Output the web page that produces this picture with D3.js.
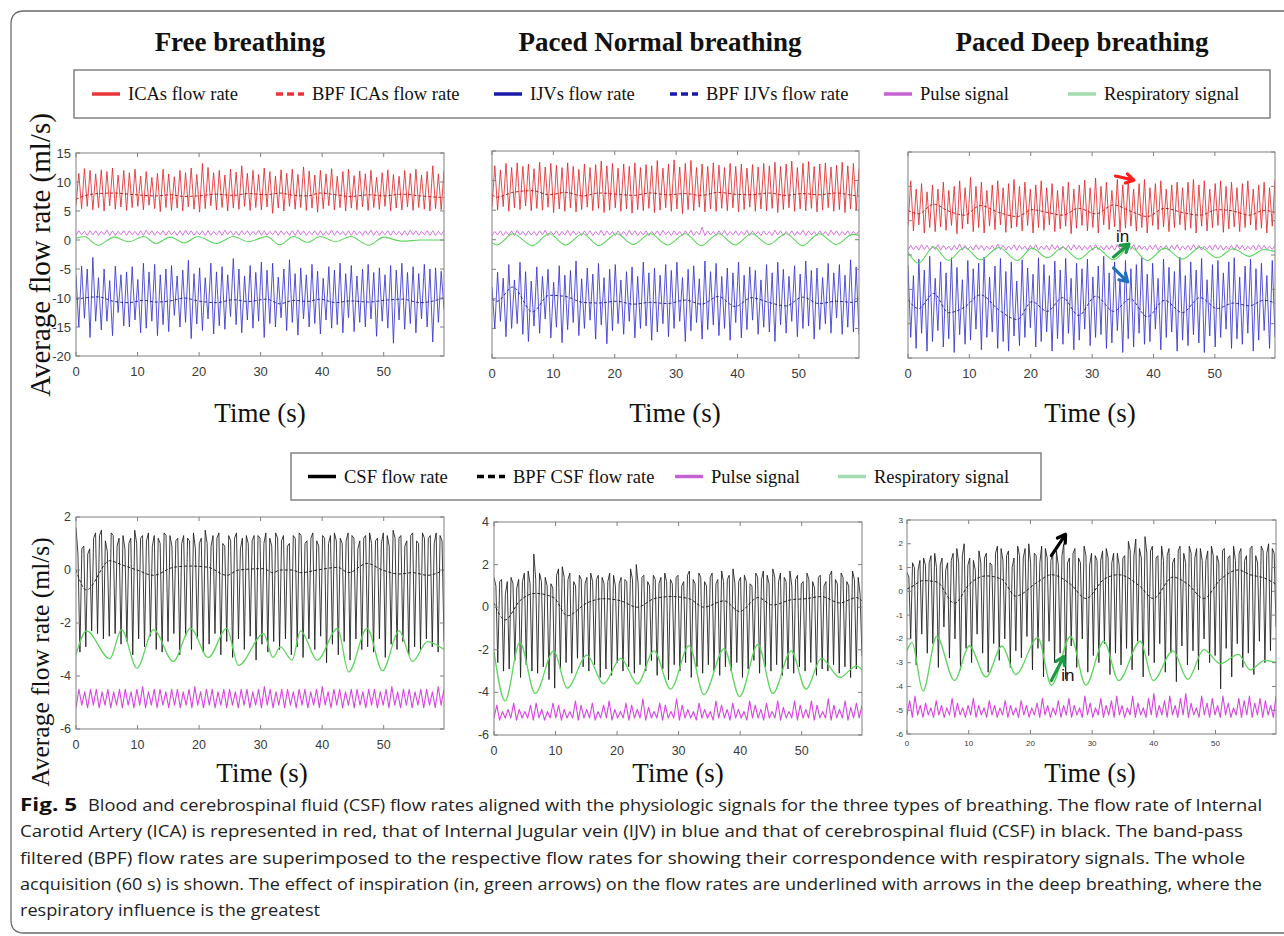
<!DOCTYPE html>
<html>
<head>
<meta charset="utf-8">
<script src="https://cdn.jsdelivr.net/npm/d3@7"></script>
<style>
  body { margin: 0; background: #fff; }
</style>
</head>
<body>
<div id="chart"></div>
<script>
// ---------- Data ----------
const X_MAX = 59.8; // seconds shown on each panel

const titles = ['Free breathing', 'Paced Normal breathing', 'Paced Deep breathing'];
const xTicks = [0, 10, 20, 30, 40, 50];

// top row: heart-beat signals stored as [trough, peak, trough, peak, ...] at an even sampling rate
const icaFree = [6.0,11.5, 5.4,12.3, 5.8,12.0, 5.2,11.4, 5.6,12.1, 5.0,11.8, 5.9,12.4, 5.3,11.2, 5.7,12.0, 5.1,11.6,
  5.6,12.2, 5.8,11.0, 5.2,11.8, 6.0,10.8, 5.4,11.5, 4.9,12.2, 5.6,11.4, 5.1,10.9, 5.5,12.0, 5.0,11.6,
  5.7,12.4, 5.3,11.3, 4.8,13.2, 5.4,12.5, 5.9,11.6, 5.2,12.0, 5.6,11.2, 5.0,12.2, 5.5,11.7, 5.3,12.8,
  5.8,11.5, 5.1,12.0, 5.6,11.3, 5.2,12.4, 5.7,11.8, 4.6,11.0, 5.5,12.1, 5.0,11.5, 5.8,12.2, 5.3,11.3,
  5.6,12.6, 5.1,11.9, 5.5,11.2, 4.8,12.0, 5.4,11.4, 5.9,12.3, 5.2,11.0, 5.6,11.8, 5.0,12.2, 5.5,11.1,
  5.2,11.9, 5.7,11.4, 5.1,12.0, 5.6,10.8, 5.3,11.6, 5.8,12.1, 5.0,11.3, 5.5,11.0, 5.2,12.0, 5.7,11.5,
  5.1,12.2, 5.6,11.2, 5.3,11.8, 5.0,12.8, 5.4,11.4, 5.2,12.0];
const ijvFree = [-6.0,-15.0, -4.5,-13.5, -5.0,-16.8, -3.0,-14.0, -6.5,-15.5, -5.0,-14.0, -7.0,-16.5, -4.5,-12.5, -6.0,-14.8, -5.5,-15.0,
  -4.6,-13.8, -6.8,-16.0, -4.0,-15.2, -5.5,-14.0, -4.2,-16.5, -6.0,-14.6, -5.0,-15.8, -4.4,-13.0, -6.2,-15.0, -5.2,-14.2,
  -3.5,-17.0, -5.8,-14.5, -4.8,-15.6, -6.5,-13.6, -4.0,-16.2, -5.5,-14.8, -4.6,-15.4, -6.0,-13.2, -3.2,-14.6, -5.0,-16.0,
  -6.2,-13.8, -4.4,-15.2, -5.6,-14.0, -3.8,-16.8, -5.2,-14.4, -4.0,-15.0, -6.4,-13.4, -5.0,-15.6, -3.4,-14.2, -5.8,-16.4,
  -4.8,-13.6, -6.0,-15.0, -4.2,-14.4, -5.4,-16.2, -6.6,-13.8, -4.6,-15.2, -5.2,-14.6, -4.0,-16.0, -5.8,-13.4, -4.4,-15.8,
  -6.2,-14.2, -5.0,-15.0, -4.2,-13.6, -5.6,-16.6, -4.8,-14.0, -6.0,-15.2, -4.4,-17.8, -5.2,-13.8, -4.0,-15.4, -5.6,-14.4,
  -4.6,-16.0, -5.8,-13.6, -4.2,-15.0, -5.0,-17.6, -4.8,-14.2, -5.4,-12.0];
const pulseFree = [0.8,1.6, 0.9,1.5, 0.8,1.6, 0.9,1.6, 0.8,1.5, 0.9,1.7, 0.8,1.6, 0.8,1.5, 0.9,1.6, 0.8,1.6,
  0.9,1.5, 0.8,1.6, 0.8,1.7, 0.9,1.6, 0.8,1.5, 0.9,1.6, 0.8,1.6, 0.9,1.5, 0.8,1.6, 0.8,1.7,
  0.9,1.6, 0.8,1.5, 0.9,1.6, 0.8,1.6, 0.8,1.5, 0.9,1.6, 0.8,1.7, 0.9,1.6, 0.8,1.5, 0.8,1.6,
  0.9,1.6, 0.8,1.5, 0.9,1.7, 0.8,1.6, 0.8,1.5, 0.9,1.6, 0.8,1.6, 0.9,1.5, 0.8,1.6, 0.8,1.7,
  0.9,1.6, 0.8,1.5, 0.9,1.6, 0.8,1.6, 0.8,1.5, 0.9,1.7, 0.8,1.6, 0.9,1.5, 0.8,1.6, 0.8,1.6,
  0.9,1.5, 0.8,1.6, 0.9,1.7, 0.8,1.6, 0.8,1.5, 0.9,1.6, 0.8,1.6, 0.9,1.5, 0.8,1.6, 0.8,1.7,
  0.9,1.6, 0.8,1.5, 0.9,1.6, 0.8,1.6, 0.8,1.5, 0.9,1.6];
// slow waves: extremes with their times (s)
const breathFreeT = [0, 1.3, 3.6, 6.2, 8.6, 11.0, 13.0, 15.3, 17.6, 19.8, 22.8, 25.6, 28.0, 31.0, 33.1, 35.4, 37.6, 39.7, 42.2, 44.6, 47.6, 50.0, 53.0, 56.0, 59.8];
const respFree = [0.3, 0.6, -0.9, 0.5, -0.3, 0.6, -0.6, 0.5, -0.5, 0.6, -0.6, 0.6, -0.3, 0.6, -0.8, 0.6, -0.4, 0.6, -0.3, 0.6, -0.9, 0.5, -0.2, 0.0, 0.0];
const bpfIcaFree = [7.0, 7.6, 8.0, 8.1, 7.9, 7.7, 7.6, 7.8, 7.5, 7.6, 7.9, 7.7, 8.0, 7.8, 8.1, 7.7, 7.6, 8.1, 7.8, 7.5, 7.8, 7.6, 7.9, 7.6, 7.3];
const bpfIjvFree = [-10.2, -10.0, -9.8, -10.6, -10.8, -10.4, -10.7, -10.5, -10.0, -10.5, -10.8, -10.3, -10.6, -10.2, -11.0, -10.4, -10.6, -10.2, -10.8, -10.5, -10.7, -10.4, -10.2, -10.8, -10.0];

const icaNormal = [5.5,12.5, 5.0,11.8, 5.6,12.9, 4.8,12.2, 5.4,13.0, 5.1,12.4, 5.7,12.8, 4.9,12.0, 5.3,13.1, 5.0,12.3,
  5.5,12.9, 4.6,12.6, 5.2,12.2, 4.8,13.0, 5.4,12.4, 4.7,11.9, 5.1,12.8, 5.5,12.2, 4.9,12.7, 5.3,13.3,
  4.6,12.5, 5.0,12.9, 5.4,12.1, 4.8,12.8, 5.2,12.4, 4.5,13.0, 5.1,12.2, 4.9,12.7, 5.3,12.5, 4.6,13.4,
  5.0,12.1, 5.4,12.8, 4.8,13.5, 5.2,12.3, 4.4,12.9, 5.1,13.4, 4.9,12.2, 5.5,12.8, 4.7,12.4, 5.2,13.0,
  4.8,12.6, 5.3,12.2, 4.9,12.9, 5.4,12.4, 4.7,12.8, 5.1,12.1, 5.5,12.7, 4.8,12.3, 5.2,12.9, 4.9,12.5,
  5.3,13.1, 4.6,12.4, 5.1,12.8, 5.4,13.3, 4.8,12.2, 5.2,12.9, 4.9,13.2, 5.3,12.4, 4.7,12.8, 5.0,13.0,
  5.4,12.3, 4.8,12.6, 5.1,13.1, 4.6,12.5, 5.2,12.9, 5.0,12.0];
const ijvNormal = [-8.0,-15.0, -5.5,-13.8, -6.5,-16.4, -4.2,-15.0, -6.8,-14.2, -3.8,-16.0, -5.4,-17.2, -7.0,-14.6, -4.6,-15.8, -6.2,-13.4,
  -5.0,-16.6, -7.2,-14.8, -4.4,-17.4, -6.0,-15.2, -5.2,-14.0, -3.6,-16.2, -6.6,-15.0, -4.8,-13.6, -5.8,-16.8, -4.0,-14.4,
  -6.4,-17.6, -5.0,-15.4, -4.2,-14.2, -6.8,-16.0, -5.4,-13.8, -4.6,-16.6, -6.2,-15.0, -3.8,-14.6, -5.6,-17.0, -4.8,-15.6,
  -6.0,-14.2, -4.2,-16.4, -5.2,-15.0, -3.8,-13.8, -6.4,-17.2, -5.0,-15.4, -4.4,-14.0, -6.6,-16.8, -3.6,-15.2, -5.4,-14.4,
  -4.0,-16.2, -6.2,-15.0, -4.8,-17.0, -5.6,-14.0, -3.8,-16.6, -6.0,-15.2, -4.6,-13.6, -5.2,-16.0, -6.8,-14.8, -4.2,-15.6,
  -5.6,-17.2, -3.8,-14.4, -5.0,-15.8, -6.2,-13.8, -4.4,-16.4, -5.8,-15.0, -3.6,-14.6, -5.2,-16.8, -4.8,-15.2, -6.4,-14.2,
  -4.0,-15.8, -5.6,-13.2, -4.2,-16.0, -6.0,-14.8, -3.4,-15.6, -4.6,-16.0];
const pulseNormal = [0.7,1.4, 0.8,1.5, 0.7,1.4, 0.8,1.5, 0.7,1.6, 0.8,1.4, 0.7,1.5, 0.8,1.4, 0.7,1.5, 0.8,1.6,
  0.7,1.4, 0.8,1.5, 0.7,1.4, 0.8,1.6, 0.7,1.5, 0.8,1.4, 0.7,1.5, 0.8,1.5, 0.7,1.4, 0.8,1.6,
  0.7,1.5, 0.8,1.4, 0.7,1.5, 0.8,1.4, 0.7,1.6, 0.8,1.5, 0.7,1.4, 0.8,1.5, 0.7,1.4, 0.8,1.5,
  0.7,1.6, 0.8,1.4, 0.7,1.5, 0.8,1.4, 0.7,1.5, 0.8,1.6, 0.7,1.4, 0.8,2.1, 0.7,1.5, 0.8,1.4,
  0.7,1.5, 0.8,1.6, 0.7,1.4, 0.8,1.5, 0.7,1.4, 0.8,1.6, 0.7,1.5, 0.8,1.4, 0.7,1.5, 0.8,1.4,
  0.7,1.6, 0.8,1.5, 0.7,1.4, 0.8,1.5, 0.7,1.4, 0.8,1.6, 0.7,1.5, 0.8,1.4, 0.7,1.5, 0.8,1.4,
  0.7,1.6, 0.8,1.5, 0.7,1.4, 0.8,1.5, 0.7,1.4, 0.8,1.5];
const breathNormalT = [0, 0.8, 3.4, 6.6, 9.3, 12.0, 14.8, 17.4, 20.3, 23.0, 25.8, 28.6, 31.5, 34.1, 36.9, 39.6, 42.3, 45.1, 47.9, 50.6, 53.3, 56.1, 58.8, 59.8];
const respNormal = [-0.5, -0.9, 1.0, -1.0, 1.0, -0.9, 1.0, -1.0, 1.0, -0.8, 1.0, -0.9, 1.0, -1.0, 1.0, -0.9, 1.0, -0.8, 1.0, -1.0, 1.0, -0.8, 0.9, 0.7];
const bpfIcaNormal = [7.6, 7.2, 8.0, 8.3, 7.6, 8.0, 7.4, 7.9, 7.7, 7.5, 7.9, 7.6, 7.8, 7.5, 8.0, 7.7, 7.6, 7.9, 7.5, 7.8, 7.6, 7.9, 7.5, 7.4];
const bpfIjvNormal = [-10.0, -10.4, -8.0, -12.2, -9.4, -9.6, -10.6, -10.7, -10.4, -10.9, -10.6, -10.8, -10.2, -10.9, -9.6, -11.3, -9.8, -10.6, -11.2, -9.7, -10.8, -10.4, -10.6, -10.2];

const icaDeep = [-0.8,5.8, -1.5,4.6, -0.6,5.4, -1.8,4.2, -1.0,5.2, -1.6,4.6, -0.9,5.6, -1.4,4.4, -0.7,5.0, -1.9,5.8,
  -1.2,4.8, -0.5,6.3, -1.6,5.0, -1.0,5.6, -1.8,4.4, -0.8,5.2, -1.3,5.8, -0.6,4.8, -1.7,5.4, -1.1,6.0,
  -0.9,5.0, -1.5,5.6, -0.7,4.6, -1.8,5.2, -1.0,5.8, -1.4,4.8, -0.6,5.4, -1.6,4.4, -1.2,5.0, -0.8,5.6,
  -1.9,4.6, -1.1,5.2, -0.7,5.9, -1.5,4.8, -1.0,6.2, -1.8,5.0, -0.6,5.6, -1.3,4.4, -0.9,6.0, -1.7,5.2,
  -1.1,5.8, -0.8,4.6, -1.5,5.4, -1.0,6.0, -1.8,4.8, -0.7,5.4, -1.3,5.8, -0.9,4.6, -1.6,5.2, -1.0,5.6,
  -0.6,4.8, -1.4,5.6, -1.1,6.0, -1.8,5.2, -0.8,5.8, -1.5,4.6, -1.0,5.4, -0.7,5.8, -1.7,5.0, -1.2,5.6,
  -0.9,4.8, -1.6,5.4, -1.0,5.8, -0.6,4.6, -1.4,5.2, -1.1,5.6, -1.8,4.8, -0.8,6.0];
const ijvDeep = [-6.5,-17.0, -8.0,-18.6, -5.6,-16.4, -7.2,-19.0, -5.2,-17.6, -8.4,-16.0, -6.0,-18.4, -7.6,-17.2, -5.4,-19.2, -6.8,-16.6,
  -8.6,-18.0, -5.8,-17.4, -7.0,-15.8, -6.2,-18.8, -5.3,-17.0, -8.2,-16.2, -6.6,-18.6, -5.5,-17.6, -7.4,-19.0, -6.0,-16.8,
  -8.8,-18.2, -5.7,-17.0, -6.9,-15.6, -7.8,-18.4, -5.4,-17.6, -6.4,-16.2, -8.0,-19.0, -5.9,-17.2, -7.2,-18.0, -5.5,-16.4,
  -8.4,-18.8, -6.2,-17.4, -7.0,-15.8, -5.6,-18.2, -8.2,-17.0, -6.6,-16.6, -5.2,-18.6, -7.6,-17.8, -6.0,-16.0, -8.6,-19.2,
  -5.8,-17.2, -7.0,-18.4, -6.4,-16.4, -5.4,-18.0, -7.8,-17.6, -6.2,-15.8, -8.4,-18.8, -5.6,-17.0, -6.8,-16.2, -7.4,-19.0,
  -5.3,-17.4, -8.0,-18.2, -6.0,-16.6, -7.2,-17.8, -5.5,-19.2, -8.6,-16.8, -6.4,-18.4, -5.8,-17.0, -7.6,-15.8, -6.0,-18.6,
  -5.4,-17.2, -8.2,-18.0, -6.6,-16.4, -5.6,-19.0, -7.0,-17.4, -6.2,-16.0, -8.0,-18.6, -5.8,-17.0];
const pulseDeep = [-4.3,-3.6, -4.2,-3.7, -4.3,-3.5, -4.2,-3.6, -4.3,-3.7, -4.2,-3.5, -4.3,-3.6, -4.2,-3.7, -4.3,-3.6, -4.2,-3.4,
  -4.3,-3.6, -4.2,-3.7, -4.3,-3.5, -4.2,-3.6, -4.3,-3.7, -4.2,-3.6, -4.3,-3.4, -4.2,-3.6, -4.3,-3.7, -4.2,-3.5,
  -4.3,-3.6, -4.2,-3.7, -4.3,-3.6, -4.2,-3.5, -4.3,-3.7, -4.2,-3.6, -4.3,-3.5, -4.2,-3.6, -4.3,-3.7, -4.2,-3.6,
  -4.3,-3.5, -4.2,-3.6, -4.3,-3.7, -4.2,-3.6, -4.3,-3.5, -4.2,-3.7, -4.3,-3.6, -4.2,-3.6, -4.3,-3.5, -4.2,-3.7,
  -4.3,-3.6, -4.2,-3.5, -4.3,-3.6, -4.2,-3.7, -4.3,-3.6, -4.2,-3.5, -4.3,-3.7, -4.2,-3.6, -4.3,-3.6, -4.2,-3.5,
  -4.3,-3.7, -4.2,-3.6, -4.3,-3.5, -4.2,-3.6, -4.3,-3.7, -4.2,-3.6, -4.3,-3.5, -4.2,-3.6, -4.3,-3.7, -4.2,-3.6,
  -4.3,-3.5, -4.2,-3.6, -4.3,-3.7, -4.2,-3.6, -4.3,-3.5, -4.2,-3.6, -4.3,-3.7, -4.2,-3.6];
const breathDeepT = [0, 1.7, 4.2, 6.6, 9.2, 11.8, 14.8, 17.8, 20.2, 22.7, 25.2, 27.8, 30.6, 33.5, 36.2, 39.0, 41.8, 44.7, 47.6, 50.4, 53.0, 55.6, 58.0, 59.8];
const respDeep = [-4.6, -6.2, -3.8, -5.8, -3.9, -5.7, -3.9, -5.8, -4.0, -5.4, -3.9, -5.6, -3.9, -5.7, -3.8, -5.8, -4.0, -5.6, -3.9, -5.4, -4.1, -5.2, -4.2, -4.5];
const bpfIcaDeep = [1.5, 1.0, 2.4, 1.4, 0.8, 2.2, 1.2, 0.6, 1.6, 1.2, 0.8, 1.8, 1.0, 2.3, 1.4, 0.6, 1.8, 1.2, 0.8, 1.6, 1.4, 0.8, 1.5, 1.2];
const bpfIjvDeep = [-11.5, -12.8, -10.6, -13.4, -12.6, -10.8, -13.0, -14.4, -11.8, -13.2, -11.2, -13.8, -11.0, -13.2, -11.4, -14.0, -11.6, -13.4, -11.2, -12.8, -12.0, -12.4, -11.6, -12.0];

// bottom row: CSF stored as [high, high, low] per beat, pulse as [low, high]
const csfFree = [1.6,0.6,-3.1, 0.8,0.9,-2.9, 0.6,0.8,-2.3, 1.2,1.4,-2.4, 1.3,1.5,-2.6, 1.1,0.7,-2.5, 1.4,1.3,-2.4, 0.9,1.2,-2.8, 1.3,0.8,-2.7, 1.0,1.2,-3.2,
  1.5,1.0,-2.6, 1.2,1.3,-2.9, 1.1,1.4,-2.5, 0.9,1.3,-3.0, 1.2,1.0,-3.1, 1.4,1.3,-2.7, 1.3,0.9,-2.4, 1.1,1.2,-3.2, 1.0,1.3,-2.5, 1.2,1.1,-3.0,
  1.4,0.8,-2.6, 1.0,1.2,-3.1, 1.5,1.0,-2.8, 0.9,1.3,-2.4, 1.2,1.4,-3.2, 1.0,0.9,-2.7, 1.3,1.1,-3.3, 1.2,1.4,-2.6, 0.8,1.2,-3.0, 1.3,1.0,-2.5,
  1.1,1.3,-3.4, 1.3,1.2,-2.8, 1.0,1.4,-3.1, 1.2,0.9,-2.7, 1.4,1.2,-3.0, 1.1,1.3,-2.6, 0.9,1.0,-3.2, 1.3,1.2,-2.9, 1.4,1.3,-3.3, 1.0,1.1,-2.6,
  1.2,1.4,-3.0, 1.1,0.9,-2.5, 1.3,1.2,-3.5, 1.0,1.3,-2.8, 1.4,1.1,-3.2, 1.2,1.0,-2.7, 1.1,1.4,-3.4, 1.3,1.2,-2.6, 0.8,1.1,-3.0, 1.2,1.3,-2.9,
  1.4,1.0,-3.1, 1.1,1.2,-2.6, 1.0,1.4,-3.3, 1.3,0.9,-2.8, 1.5,1.2,-3.0, 1.2,1.3,-2.7, 0.9,1.1,-3.2, 1.3,1.4,-2.9, 1.1,1.0,-3.0, 1.4,1.2,-2.6,
  1.2,1.3,-2.9, 1.0,1.4,-3.1, 1.3,1.1,-2.7];
const pulseCsfFree = [-5.2,-4.5, -5.1,-4.6, -5.2,-4.5, -5.1,-4.5, -5.2,-4.6, -5.1,-4.5, -5.2,-4.6, -5.1,-4.5, -5.2,-4.5, -5.1,-4.6,
  -5.2,-4.5, -5.1,-4.4, -5.2,-4.6, -5.1,-4.5, -5.2,-4.5, -5.1,-4.6, -5.2,-4.5, -5.1,-4.5, -5.2,-4.6, -5.1,-4.5,
  -5.2,-4.4, -5.1,-4.6, -5.2,-4.5, -5.1,-4.5, -5.2,-4.6, -5.1,-4.5, -5.2,-4.5, -5.1,-4.6, -5.2,-4.5, -5.1,-4.5,
  -5.2,-4.6, -5.1,-4.5, -5.2,-4.4, -5.1,-4.5, -5.2,-4.6, -5.1,-4.5, -5.2,-4.5, -5.1,-4.6, -5.2,-4.5, -5.1,-4.5,
  -5.2,-4.6, -5.1,-4.5, -5.2,-4.4, -5.1,-4.6, -5.2,-4.5, -5.1,-4.5, -5.2,-4.6, -5.1,-4.5, -5.2,-4.5, -5.1,-4.6,
  -5.2,-4.5, -5.1,-4.5, -5.2,-4.6, -5.1,-4.5, -5.2,-4.4, -5.1,-4.6, -5.2,-4.5, -5.1,-4.5, -5.2,-4.6, -5.1,-4.5,
  -5.2,-4.5, -5.1,-4.6, -5.2,-4.4, -5.1,-4.5];
const breathCsfFreeT = [0, 1.7, 5.5, 7.4, 9.9, 12.6, 15.8, 18.6, 21.5, 24.5, 26.4, 30.5, 32.0, 33.2, 35.1, 36.5, 39.2, 42.5, 44.3, 47.3, 49.8, 52.5, 54.7, 57.1, 59.8];
const respCsfFree = [-3.2, -2.3, -3.35, -2.25, -3.7, -2.25, -3.45, -2.2, -3.3, -2.2, -3.6, -2.4, -3.3, -2.9, -3.4, -2.3, -3.4, -2.2, -3.85, -2.2, -3.8, -2.3, -3.45, -2.7, -3.0];
const bpfCsfFree = [0.0, -0.75, 0.35, 0.2, 0.0, -0.2, 0.1, 0.15, 0.1, -0.2, 0.0, 0.05, -0.1, 0.0, 0.0, -0.1, 0.0, 0.1, -0.1, 0.25, 0.0, -0.15, -0.1, -0.2, 0.0];

const csfNormal = [1.4,1.0,-2.6, 1.2,1.3,-3.0, 0.6,1.2,-2.9, 1.4,1.1,-2.5, 0.9,1.3,-3.3, 1.2,1.6,-2.7, 1.7,1.1,-3.0, 2.5,1.3,-3.1, 1.6,1.2,-2.8, 1.4,1.0,-3.4,
  1.1,0.9,-3.8, 1.5,1.8,-2.9, 1.9,1.4,-2.6, 1.3,1.6,-3.1, 1.2,1.0,-2.4, 1.5,1.3,-2.8, 1.1,1.4,-3.0, 1.6,1.2,-2.7, 1.3,1.5,-3.3, 1.4,1.1,-2.9,
  1.2,1.6,-3.2, 1.5,1.0,-2.6, 1.1,1.4,-3.0, 1.3,1.2,-2.8, 1.8,1.3,-3.1, 2.0,1.1,-2.7, 1.4,1.5,-3.0, 1.2,1.0,-2.5, 1.5,1.3,-3.2, 1.1,1.4,-2.9,
  1.6,1.2,-3.4, 1.3,1.1,-2.7, 1.4,1.5,-3.0, 1.0,1.2,-2.6, 1.5,1.7,-3.3, 1.3,1.1,-2.8, 1.6,1.4,-3.1, 1.2,1.0,-2.7, 1.4,1.6,-3.0, 1.1,1.3,-3.2,
  1.7,1.2,-2.8, 1.3,1.5,-3.0, 1.8,1.1,-2.6, 1.2,1.4,-3.3, 1.5,1.2,-2.9, 1.1,1.0,-2.5, 1.6,1.4,-3.1, 1.3,1.7,-2.8, 1.5,1.1,-3.0, 1.8,1.4,-2.7,
  1.2,1.6,-3.2, 1.4,1.2,-2.9, 1.7,1.0,-3.1, 1.3,1.5,-2.8, 1.1,1.2,-3.0, 1.6,1.3,-2.6, 1.2,0.9,-3.2, 1.4,1.5,-2.9, 1.0,1.2,-3.0, 1.5,1.7,-2.7,
  1.3,1.1,-3.1, 1.6,1.4,-2.8, 1.2,1.0,-3.3, 1.7,1.3,-2.9, 1.4,0.6,-2.3];
const pulseCsfNormal = [-5.2,-4.6, -5.3,-4.9, -5.2,-4.8, -5.2,-4.5, -5.3,-4.8, -5.2,-4.9, -5.2,-4.6, -5.3,-4.5, -5.2,-4.8, -5.3,-4.9,
  -5.2,-4.5, -5.2,-4.6, -5.3,-4.8, -5.2,-4.9, -5.2,-4.4, -5.3,-4.6, -5.2,-4.8, -5.2,-4.5, -5.3,-4.9, -5.2,-4.6,
  -5.2,-4.4, -5.3,-4.8, -5.2,-4.9, -5.2,-4.5, -5.3,-4.6, -5.2,-4.8, -5.2,-4.3, -5.3,-4.7, -5.2,-4.9, -5.2,-4.5,
  -5.3,-4.6, -5.2,-4.9, -5.2,-4.3, -5.3,-4.6, -5.2,-4.8, -5.2,-4.9, -5.3,-4.5, -5.2,-4.8, -5.2,-4.9, -5.3,-4.4,
  -5.2,-4.6, -5.2,-4.8, -5.3,-4.5, -5.2,-4.8, -5.2,-4.9, -5.3,-4.4, -5.2,-4.6, -5.2,-4.8, -5.3,-4.5, -5.2,-4.9,
  -5.2,-4.4, -5.3,-4.7, -5.2,-4.9, -5.2,-4.4, -5.3,-4.6, -5.2,-4.8, -5.2,-4.4, -5.3,-4.6, -5.2,-4.9, -5.2,-4.3,
  -5.3,-4.6, -5.2,-4.8, -5.2,-4.4, -5.3,-4.7, -5.2,-4.5, -5.2,-4.6];
const breathCsfNormalT = [0, 1.8, 4.2, 6.7, 9.7, 11.9, 15.1, 17.8, 20.6, 23.3, 26.0, 28.7, 31.7, 34.1, 37.4, 39.9, 42.9, 45.3, 48.3, 50.7, 53.2, 56.2, 58.9, 59.8];
const respCsfNormal = [-2.1, -4.4, -1.65, -4.05, -2.05, -3.8, -2.25, -3.6, -2.4, -3.6, -2.05, -3.85, -1.8, -4.1, -1.95, -4.2, -1.75, -4.05, -2.05, -3.85, -2.4, -3.3, -2.75, -2.95];
const bpfCsfNormal = [0.2, -0.6, 0.3, 0.65, 0.45, -0.4, 0.2, 0.4, 0.3, 0.0, 0.4, 0.5, 0.4, 0.0, 0.3, -0.2, 0.45, 0.1, 0.35, 0.4, 0.5, 0.2, 0.45, 0.3];

const csfDeep = [0.8,0.6,-2.0, 1.2,1.0,-3.1, 0.9,1.3,-1.8, 1.4,1.1,-2.6, 1.2,1.5,-2.2, 1.6,1.0,-3.2, 1.1,1.4,-1.5, 0.9,1.2,-2.8, 1.3,1.6,-2.0, 1.8,1.2,-3.3,
  1.5,2.0,-2.4, 1.1,1.4,-3.0, 1.3,0.9,-1.8, 1.7,1.2,-2.6, 1.4,1.6,-3.4, 1.2,1.1,-2.2, 1.6,1.9,-2.9, 1.8,1.3,-2.0, 1.5,1.7,-3.2, 1.0,1.4,-2.5,
  1.9,1.5,-2.8, 1.4,1.8,-1.9, 2.0,1.2,-3.3, 1.6,1.5,-2.4, 1.2,1.9,-3.6, 1.8,1.4,-2.1, 1.3,1.6,-3.0, 1.7,1.1,-2.6, 1.5,2.0,-3.7, 1.2,1.4,-2.3,
  1.6,1.8,-3.2, 1.4,1.2,-2.0, 1.9,1.5,-3.4, 1.1,1.6,-2.7, 1.5,1.3,-3.0, 1.3,1.7,-2.2, 1.8,1.4,-3.5, 1.2,1.6,-2.6, 1.6,1.1,-3.1, 1.4,1.5,-2.4,
  2.1,1.7,-3.3, 1.5,2.2,-2.1, 1.8,1.4,-3.6, 2.3,1.6,-2.7, 1.7,1.9,-3.0, 1.4,1.5,-2.2, 1.9,1.3,-3.4, 1.5,1.8,-2.6, 1.2,1.4,-3.8, 1.7,1.9,-2.3,
  1.6,1.2,-3.1, 1.9,1.6,-2.5, 1.4,1.8,-3.3, 1.8,1.3,-2.0, 1.3,1.7,-3.0, 1.9,1.5,-2.7, 1.5,1.2,-4.1, 1.7,1.8,-2.4, 1.4,1.5,-3.6, 1.9,1.3,-2.2,
  1.6,1.8,-3.2, 1.3,1.5,-2.6, 1.8,1.9,-3.5, 1.5,1.2,-2.1, 1.9,1.7,-3.0, 1.6,2.0,-2.5, 1.8,1.6,-1.5];
const pulseCsfDeep = [-5.2,-4.6, -5.3,-4.4, -5.2,-4.8, -5.3,-4.7, -5.2,-4.9, -5.3,-4.6, -5.2,-4.8, -5.3,-4.9, -5.2,-4.5, -5.3,-4.7,
  -5.2,-4.9, -5.3,-4.8, -5.2,-4.5, -5.3,-4.8, -5.2,-4.9, -5.3,-4.6, -5.2,-4.8, -5.3,-4.9, -5.2,-4.6, -5.3,-4.8,
  -5.2,-4.9, -5.3,-4.6, -5.2,-4.8, -5.3,-4.9, -5.2,-4.7, -5.3,-4.5, -5.2,-4.8, -5.3,-4.9, -5.2,-4.6, -5.3,-4.8,
  -5.2,-4.5, -5.3,-4.8, -5.2,-4.9, -5.3,-4.4, -5.2,-4.7, -5.3,-4.9, -5.2,-4.5, -5.3,-4.8, -5.2,-4.6, -5.3,-4.4,
  -5.2,-4.8, -5.3,-4.9, -5.2,-4.4, -5.3,-4.7, -5.2,-4.9, -5.3,-4.5, -5.2,-4.3, -5.3,-4.8, -5.2,-4.6, -5.3,-4.4,
  -5.2,-4.8, -5.3,-4.5, -5.2,-4.3, -5.3,-4.7, -5.2,-4.9, -5.3,-4.4, -5.2,-4.7, -5.3,-4.5, -5.2,-4.8, -5.3,-4.4,
  -5.2,-4.7, -5.3,-4.9, -5.2,-4.5, -5.3,-4.6, -5.2,-4.4, -5.3,-4.7, -5.2,-4.5, -5.3,-4.6, -5.2,-4.8, -5.3,-4.4];
const breathCsfDeepT = [0, 0.8, 2.6, 4.8, 7.7, 10.1, 12.8, 15.4, 17.6, 21.2, 23.4, 26.5, 29.0, 31.9, 34.3, 37.8, 39.9, 43.1, 45.5, 48.1, 50.8, 53.7, 55.6, 58.0, 59.8];
const respCsfDeep = [-2.5, -2.15, -4.2, -1.9, -3.75, -2.3, -3.6, -2.3, -3.5, -1.95, -3.95, -1.9, -3.95, -2.1, -3.75, -2.1, -3.75, -2.5, -3.7, -2.45, -3.05, -2.65, -3.3, -2.9, -3.0];
const bpfCsfDeep = [0.1, 0.2, 0.45, 0.4, -0.5, 0.3, 0.65, 0.5, -0.2, 0.4, 0.7, 0.3, -0.3, 0.5, 0.7, 0.2, -0.3, 0.6, 0.3, -0.3, 0.5, 0.9, 0.7, 0.55, 0.3];

// annotation arrows on the deep-breathing panels, in data units
const arrowsTop = [
  { from: [33.8, 6.5], to: [36.8, 5.9], color: '#ff1e1e' },
  { from: [33.5, -5.3], to: [36.0, -3.4], color: '#1e9a46' },
  { from: [33.5, -6.9], to: [35.8, -8.9], color: '#2070c0' },
];
const arrowsBottom = [
  { from: [23.4, 1.5], to: [25.7, 2.4], color: '#000' },
  { from: [23.4, -3.75], to: [25.4, -2.75], color: '#1e9a46' },
];

const legendTop = [
  { label: 'ICAs flow rate', color: '#e8343a', dash: null },
  { label: 'BPF ICAs flow rate', color: '#e8343a', dash: '7,4' },
  { label: 'IJVs flow rate', color: '#1a1aa8', dash: null },
  { label: 'BPF IJVs flow rate', color: '#1a1aa8', dash: '7,4' },
  { label: 'Pulse signal', color: '#c462d2', dash: null },
  { label: 'Respiratory signal', color: '#a2dcae', dash: null },
];
const legendBottom = [
  { label: 'CSF flow rate', color: '#000', dash: null },
  { label: 'BPF CSF flow rate', color: '#000', dash: '7,4' },
  { label: 'Pulse signal', color: '#c462d2', dash: null },
  { label: 'Respiratory signal', color: '#a2dcae', dash: null },
];

const captionLines = [
  'Blood and cerebrospinal fluid (CSF) flow rates aligned with the physiologic signals for the three types of breathing. The flow rate of Internal',
  'Carotid Artery (ICA) is represented in red, that of Internal Jugular vein (IJV) in blue and that of cerebrospinal fluid (CSF) in black. The band-pass',
  'filtered (BPF) flow rates are superimposed to the respective flow rates for showing their correspondence with respiratory signals. The whole',
  'acquisition (60 s) is shown. The effect of inspiration (in, green arrows) on the flow rates are underlined with arrows in the deep breathing, where the',
  'respiratory influence is the greatest',
];

// ---------- Styles ----------
const C = {
  ica: '#e02a2a', icaBpf: '#b81010',
  ijv: '#3535d0', ijvBpf: '#1c1c90',
  pulse: '#d05ada', pulseB: '#d845e2', resp: '#5cd65c',
  csf: '#1a1a1a', csfBpf: '#111',
};
const SERIF = "'Liberation Serif', 'DejaVu Serif', serif";
const SANS = "'Liberation Sans', Arial, sans-serif";

const panels = [
  { box: { x: 76, y: 153, w: 368, h: 203 }, y: [-20, 15], yTicks: d3.range(-20, 16, 5), yLabels: true, font: 13, xLabY: 15,
    series: [
      { v: icaFree, c: C.ica }, { v: bpfIcaFree, t: breathFreeT, c: C.icaBpf, dash: '3,2' },
      { v: ijvFree, c: C.ijv }, { v: bpfIjvFree, t: breathFreeT, c: C.ijvBpf, dash: '3,2' },
      { v: pulseFree, c: C.pulse }, { v: respFree, t: breathFreeT, c: C.resp, w: 1.1 },
    ] },
  { box: { x: 492, y: 151, w: 367, h: 207 }, y: [-20, 15], yTicks: d3.range(-20, 16, 5), yLabels: false, font: 13, xLabY: 15,
    series: [
      { v: icaNormal, c: C.ica }, { v: bpfIcaNormal, t: breathNormalT, c: C.icaBpf, dash: '3,2' },
      { v: ijvNormal, c: C.ijv }, { v: bpfIjvNormal, t: breathNormalT, c: C.ijvBpf, dash: '3,2' },
      { v: pulseNormal, c: C.pulse }, { v: respNormal, t: breathNormalT, c: C.resp, w: 1.1 },
    ] },
  { box: { x: 908, y: 152, w: 367, h: 206 }, y: [-20, 10], yTicks: d3.range(-20, 11, 5), yLabels: false, font: 13, xLabY: 15,
    arrows: arrowsTop, inLabel: [33.9, -2.3],
    series: [
      { v: icaDeep, c: C.ica }, { v: bpfIcaDeep, t: breathDeepT, c: C.icaBpf, dash: '3,2' },
      { v: ijvDeep, c: C.ijv }, { v: bpfIjvDeep, t: breathDeepT, c: C.ijvBpf, dash: '3,2' },
      { v: pulseDeep, c: C.pulse }, { v: respDeep, t: breathDeepT, c: C.resp, w: 1.1 },
    ] },
  { box: { x: 76, y: 517, w: 368, h: 212 }, y: [-6, 2], yTicks: d3.range(-6, 3, 2), yLabels: true, font: 12.5, xLabY: 16,
    series: [
      { v: csfFree, c: C.csf }, { v: bpfCsfFree, t: breathCsfFreeT, c: C.csfBpf, dash: '3,2' },
      { v: pulseCsfFree, c: C.pulseB, w: 1.1 }, { v: respCsfFree, t: breathCsfFreeT, c: C.resp, w: 1.3 },
    ] },
  { box: { x: 494, y: 522, w: 368, h: 213 }, y: [-6, 4], yTicks: d3.range(-6, 5, 2), yLabels: true, font: 12.5, xLabY: 16,
    series: [
      { v: csfNormal, c: C.csf }, { v: bpfCsfNormal, t: breathCsfNormalT, c: C.csfBpf, dash: '3,2' },
      { v: pulseCsfNormal, c: C.pulseB, w: 1.1 }, { v: respCsfNormal, t: breathCsfNormalT, c: C.resp, w: 1.3 },
    ] },
  { box: { x: 907, y: 520, w: 369, h: 214 }, y: [-6, 3], yTicks: d3.range(-6, 4, 1), yLabels: true, font: 8, xLabY: 9,
    arrows: arrowsBottom, inLabel: [25.0, -3.55],
    series: [
      { v: csfDeep, c: C.csf }, { v: bpfCsfDeep, t: breathCsfDeepT, c: C.csfBpf, dash: '3,2' },
      { v: pulseCsfDeep, c: C.pulseB, w: 1.1 }, { v: respCsfDeep, t: breathCsfDeepT, c: C.resp, w: 1.3 },
    ] },
];

// ---------- Draw ----------
function draw() {
  const svg = d3.select('#chart').append('svg')
    .attr('width', 1284).attr('height', 936)
    .style('font-family', SERIF);

  // outer frame (open on the right side)
  svg.append('path')
    .attr('d', 'M1284,11 H24 Q11,11 11,24 V920 Q11,933 24,933 H1284')
    .attr('fill', 'none').attr('stroke', '#6a6a6a').attr('stroke-width', 1.3);

  // column titles
  [240, 660, 1082].forEach((cx, i) => {
    svg.append('text').attr('x', cx).attr('y', 51).attr('text-anchor', 'middle')
      .attr('font-weight', 'bold').attr('font-size', 27).attr('fill', '#111').text(titles[i]);
  });

  // legends
  drawLegend(svg, { x: 74, y: 70, w: 1196, h: 48 }, legendTop, [92, 276, 494, 670, 884, 1068]);
  drawLegend(svg, { x: 291, y: 453, w: 750, h: 47 }, legendBottom, [308, 477, 675, 838]);

  // y-axis titles (the lower one is set slightly smaller in the figure)
  [[40, 255, 29], [40, 662, 25.5]].forEach(([x, y, fs]) => {
    svg.append('text').attr('transform', `translate(${x},${y}) rotate(-90)`)
      .attr('text-anchor', 'middle').attr('dominant-baseline', 'central')
      .attr('font-size', fs).attr('fill', '#111').text('Average flow rate (ml/s)');
  });

  // x-axis titles
  [[260, 413], [675, 413], [1090, 413], [262, 773], [678, 773], [1090, 773]].forEach(([x, y]) => {
    svg.append('text').attr('x', x).attr('y', y).attr('text-anchor', 'middle')
      .attr('dominant-baseline', 'central').attr('font-size', 27).attr('fill', '#111').text('Time (s)');
  });

  panels.forEach((p, i) => drawPanel(svg, p, i));

  // caption
  const cap = svg.append('g').style('font-family', "'Open Sans', 'Noto Sans', sans-serif").attr('fill', '#222').attr('font-size', 16.2);
  cap.append('text').attr('x', 20).attr('y', 811).attr('font-weight', 'bold').attr('font-size', 17.5)
    .attr('fill', '#111').attr('textLength', 57).attr('lengthAdjust', 'spacingAndGlyphs').text('Fig. 5');
  const capX = [88, 20, 20, 20, 20];
  const capW = [1174, 1223, 1225, 1242, 300];
  captionLines.forEach((line, i) => {
    cap.append('text').attr('x', capX[i]).attr('y', 811 + i * 26.3)
      .attr('textLength', capW[i]).attr('lengthAdjust', 'spacingAndGlyphs').text(line);
  });
}

function drawLegend(svg, box, items, xs) {
  const g = svg.append('g');
  g.append('rect').attr('x', box.x).attr('y', box.y).attr('width', box.w).attr('height', box.h)
    .attr('fill', '#fff').attr('stroke', '#7a7a7a').attr('stroke-width', 1.4);
  const cy = box.y + box.h / 2;
  items.forEach((d, i) => {
    g.append('line').attr('x1', xs[i]).attr('x2', xs[i] + 28).attr('y1', cy).attr('y2', cy)
      .attr('stroke', d.color).attr('stroke-width', 3.5).attr('stroke-dasharray', d.dash);
    g.append('text').attr('x', xs[i] + 36).attr('y', cy).attr('dominant-baseline', 'central')
      .attr('font-size', 18.5).attr('fill', '#111').text(d.label);
  });
}

function drawPanel(svg, p, idx) {
  const b = p.box;
  const x = d3.scaleLinear().domain([0, X_MAX]).range([b.x, b.x + b.w]);
  const y = d3.scaleLinear().domain(p.y).range([b.y + b.h, b.y]);

  const clipId = 'clip' + idx;
  svg.append('clipPath').attr('id', clipId).append('rect')
    .attr('x', b.x).attr('y', b.y).attr('width', b.w).attr('height', b.h);

  const g = svg.append('g');
  g.append('rect').attr('x', b.x).attr('y', b.y).attr('width', b.w).attr('height', b.h).attr('fill', '#fff');

  const lines = g.append('g').attr('clip-path', `url(#${clipId})`);
  p.series.forEach((s) => {
    const n = s.v.length;
    const pts = s.v.map((v, i) => [s.t ? s.t[i] : (i * X_MAX) / (n - 1), v]);
    const line = d3.line().x((d) => x(d[0])).y((d) => y(d[1]))
      .curve(s.t ? d3.curveMonotoneX : d3.curveLinear);
    lines.append('path').attr('d', line(pts)).attr('fill', 'none')
      .attr('stroke', s.c).attr('stroke-width', s.w || (s.dash ? 0.9 : 0.85))
      .attr('stroke-dasharray', s.dash || null).attr('stroke-linejoin', 'round');
  });

  // box + inward ticks on all four sides (MATLAB style)
  const tickLen = 4;
  const axis = g.append('g').attr('stroke', '#808080').attr('stroke-width', 1);
  xTicks.forEach((t) => {
    axis.append('line').attr('x1', x(t)).attr('x2', x(t)).attr('y1', b.y + b.h).attr('y2', b.y + b.h - tickLen);
    axis.append('line').attr('x1', x(t)).attr('x2', x(t)).attr('y1', b.y).attr('y2', b.y + tickLen);
  });
  p.yTicks.forEach((t) => {
    axis.append('line').attr('x1', b.x).attr('x2', b.x + tickLen).attr('y1', y(t)).attr('y2', y(t));
    axis.append('line').attr('x1', b.x + b.w).attr('x2', b.x + b.w - tickLen).attr('y1', y(t)).attr('y2', y(t));
  });
  axis.append('rect').attr('x', b.x).attr('y', b.y).attr('width', b.w).attr('height', b.h).attr('fill', 'none');

  const labels = g.append('g').style('font-family', SANS).attr('font-size', p.font).attr('fill', '#3a3a3a');
  xTicks.forEach((t) => {
    labels.append('text').attr('x', x(t)).attr('y', b.y + b.h + p.xLabY)
      .attr('text-anchor', 'middle').attr('dominant-baseline', 'central').text(t);
  });
  if (p.yLabels) {
    p.yTicks.forEach((t) => {
      labels.append('text').attr('x', b.x - (p.font > 10 ? 5 : 4)).attr('y', y(t))
        .attr('text-anchor', 'end').attr('dominant-baseline', 'central').text(t);
    });
  }

  // arrows and "in" labels
  if (p.arrows) {
    p.arrows.forEach((a) => drawArrow(g, x(a.from[0]), y(a.from[1]), x(a.to[0]), y(a.to[1]), a.color));
    g.append('text').attr('x', x(p.inLabel[0])).attr('y', y(p.inLabel[1]))
      .attr('dominant-baseline', 'central').style('font-family', SANS)
      .attr('font-size', 17).attr('fill', '#111').text('in');
  }
}

function drawArrow(g, x0, y0, x1, y1, color) {
  const ang = Math.atan2(y1 - y0, x1 - x0);
  const head = 9;
  const a1 = ang + Math.PI - 0.55;
  const a2 = ang + Math.PI + 0.55;
  const path = `M${x0},${y0} L${x1},${y1} M${x1 + head * Math.cos(a1)},${y1 + head * Math.sin(a1)} L${x1},${y1} L${x1 + head * Math.cos(a2)},${y1 + head * Math.sin(a2)}`;
  g.append('path').attr('d', path).attr('fill', 'none').attr('stroke', color)
    .attr('stroke-width', 3.2).attr('stroke-linecap', 'round').attr('stroke-linejoin', 'round');
}

draw();
</script>
</body>
</html>
